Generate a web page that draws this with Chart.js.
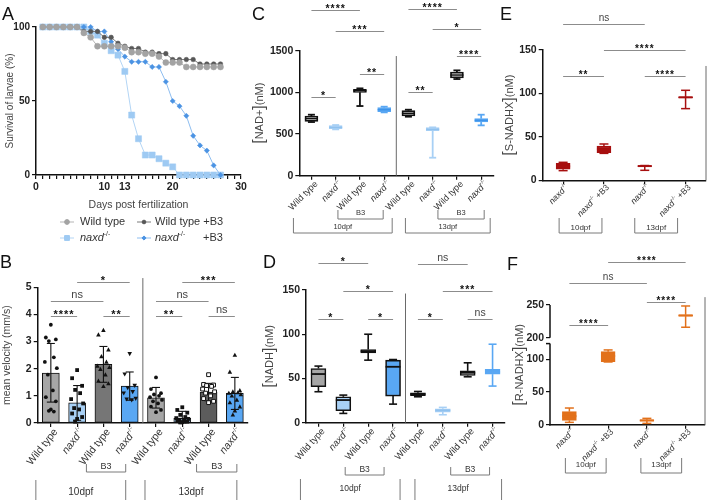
<!DOCTYPE html>
<html>
<head>
<meta charset="utf-8">
<title>naxd larvae survival, velocity and NAD metabolites</title>
<script src="https://cdn.jsdelivr.net/npm/chart.js@4.4.1/dist/chart.umd.min.js"></script>
<style>
  html, body { margin: 0; padding: 0; background: #fff; }
  body { width: 709px; height: 500px; position: relative; overflow: hidden; font-family: "Liberation Sans", Arial, sans-serif; }
  .pane { position: absolute; }
  .tag { position: absolute; font-size: 18px; line-height: 18px; color: #111; }
</style>
</head>
<body>
<div class="pane" style="left:0;top:0;width:290px;height:250px"><canvas id="chartA"></canvas></div>
<div class="pane" style="left:0;top:250px;width:290px;height:250px"><canvas id="chartB"></canvas></div>
<div class="pane" style="left:250px;top:0;width:260px;height:250px"><canvas id="chartC"></canvas></div>
<div class="pane" style="left:250px;top:250px;width:260px;height:250px"><canvas id="chartD"></canvas></div>
<div class="pane" style="left:495px;top:0;width:214px;height:250px"><canvas id="chartE"></canvas></div>
<div class="pane" style="left:495px;top:250px;width:214px;height:250px"><canvas id="chartF"></canvas></div>
<div class="tag" style="left:2px;top:5px">A</div>
<div class="tag" style="left:0px;top:253px">B</div>
<div class="tag" style="left:252px;top:5px">C</div>
<div class="tag" style="left:263px;top:253px">D</div>
<div class="tag" style="left:500px;top:5px">E</div>
<div class="tag" style="left:507px;top:255px">F</div>
<script>
// ---------- A: survival (%) per day ----------
var days = [1,2,3,4,5,6,7,8,9,10,11,12,13,14,15,16,17,18,19,20,21,22,23,24,25,26,27];
var dayTicks = [0, 10, 13, 20, 30];
var survWT     = [100,100,100,100,100,100,96,93,87,87,87,87,86,83,83,82,82,80,76,76,76,73,73,73,73,73,73];
var survWTB3   = [100,100,100,100,100,100,97,97,97,93,93,89,87,85.5,85.5,83,83,82,82,78,78,78,78,75,75,75,75];
var survNaxd   = [100,100,100,100,100,100,100,97,94.5,89,84,81,70,40.5,24.5,13.5,13.5,11,8,5.5,0,0,0,0,0,0,0];
var survNaxdB3 = [100,100,100,100,100,100,100,100,97,97,90,85,80,76.5,76.5,76.5,73,73,63,50,46.5,40,26.5,20,16.5,6.5,0];

// ---------- B: mean velocity (mm/s) ----------
var groups8 = ['Wild type','naxd-/-','Wild type','naxd-/-','Wild type','naxd-/-','Wild type','naxd-/-'];
var velMean = [1.84, 0.74, 2.16, 1.36, 0.93, 0.17, 1.14, 1.09];
var velHi   = [2.93, 1.38, 2.82, 1.88, 1.31, 0.43, 1.46, 1.68];
var velLo   = [0.77, 0.10, 1.50, 0.84, 0.55, 0.00, 0.82, 0.50];
var velPts = [
  [3.62, 3.15, 3.08, 3.02, 2.42, 2.25, 2.02, 1.78, 1.2, 0.95, 0.8, 0.5, 0.45, 0.42],
  [1.95, 1.65, 1.37, 1.22, 1.1, 0.88, 0.72, 0.55, 0.5, 0.35, 0.22, 0.15, 0.05],
  [3.42, 3.25, 2.7, 2.45, 2.25, 2.1, 2.05, 1.98, 1.78, 1.55, 1.45, 1.35],
  [2.55, 1.8, 1.38, 1.3, 1.15, 1.1, 0.9, 0.88, 0.85],
  [1.68, 1.25, 1.1, 1.05, 1.0, 0.95, 0.85, 0.8, 0.72, 0.6, 0.48, 0.4],
  [0.58, 0.48, 0.38, 0.3, 0.22, 0.18, 0.15, 0.12, 0.1, 0.08, 0.05, 0.03, 0.02],
  [1.78, 1.42, 1.4, 1.38, 1.35, 1.25, 1.15, 1.1, 1.0, 0.9, 0.8, 0.75],
  [2.5, 1.88, 1.2, 1.15, 1.12, 1.1, 1.05, 1.0, 0.85, 0.75, 0.6, 0.45, 0.3]
];
var velSig = [
  {a:0, b:1, y:3.95, t:'****'}, {a:0, b:2, y:4.51, t:'ns'}, {a:2, b:3, y:3.95, t:'**'}, {a:1, b:3, y:5.2, t:'*'},
  {a:4, b:5, y:3.95, t:'**'}, {a:4, b:6, y:4.51, t:'ns'}, {a:6, b:7, y:3.95, t:'ns'}, {a:5, b:7, y:5.2, t:'***'}
];

// ---------- C: NAD+ (nM) ----------
var nadMin = [644, 556, 836, 760, 708, 216, 1160, 604];
var nadQ1  = [652, 564, 1000, 768, 716, 540, 1172, 644];
var nadMed = [684, 580, 1020, 792, 748, 556, 1208, 664];
var nadQ3  = [716, 600, 1036, 816, 780, 576, 1244, 684];
var nadMax = [732, 608, 1048, 828, 792, 580, 1264, 732];
var nadSig = [
  {a:0, b:1, y:948, t:'*'}, {a:2, b:3, y:1220, t:'**'}, {a:1, b:3, y:1736, t:'***'}, {a:0, b:2, y:1988, t:'****'},
  {a:4, b:5, y:1008, t:'**'}, {a:6, b:7, y:1436, t:'****'}, {a:5, b:7, y:1756, t:'*'}, {a:4, b:6, y:2000, t:'****'}
];

// ---------- D: NADH (nM) ----------
var nadhMin = [35, 10.5, 70.7, 21, 29.3, 9, 51.9, 41.4];
var nadhQ1  = [40.6, 13.5, 78.9, 30.1, 30.5, 12, 53.4, 54.9];
var nadhMed = [55, 25.6, 80.8, 63.2, 32.3, 13.9, 56.4, 57.5];
var nadhQ3  = [61.3, 29.3, 82.7, 70.7, 33.8, 15.8, 58.6, 60.2];
var nadhMax = [64, 31.2, 100, 71.4, 35.3, 17.3, 67.7, 88.7];
var nadhSig = [
  {a:0, b:1, y:117.7, t:'*'}, {a:2, b:3, y:117.7, t:'*'}, {a:1, b:3, y:148.9, t:'*'}, {a:0, b:2, y:180.5, t:'*'},
  {a:4, b:5, y:117.7, t:'*'}, {a:6, b:7, y:117.7, t:'ns'}, {a:5, b:7, y:148.9, t:'***'}, {a:4, b:6, y:179.7, t:'ns'}
];

// ---------- E: S-NADHX (nM) ----------
var groups4 = ['naxd-/-', 'naxd-/- +B3', 'naxd-/-', 'naxd-/- +B3'];
var sMin = [11.1, 31, 11.5, 82.5];
var sQ1  = [12.7, 31.8, 16, 95];
var sMed = [16.1, 35.7, 16.4, 95.5];
var sQ3  = [19.6, 39.5, 16.8, 96];
var sMax = [20.7, 41.8, 17, 103.6];
var sSig = [{a:0, b:1, y:120, t:'**'}, {a:2, b:3, y:120, t:'****'}, {a:1, b:3, y:150, t:'****'}, {a:0, b:2, y:179.5, t:'ns'}];

// ---------- F: R-NADHX (nM) ----------
var rMin = [3.6, 95.9, 2, 216];
var rQ1  = [6.6, 96.4, 5.5, 233];
var rMed = [13, 105, 6.6, 234];
var rQ3  = [19.9, 111.7, 7.5, 235];
var rMax = [25.5, 114.3, 9.7, 248.5];
var rTicks = [0, 50, 100, 200, 250];
var rSig = [{a:0, b:1, y:220, t:'****'}, {a:2, b:3, y:254, t:'****'}, {a:0, b:2, y:284, t:'ns'}, {a:1, b:3, y:315, t:'****'}];

// ---------- look ----------
var FONT = '"Liberation Sans", Arial, sans-serif';
var gray1 = '#a6a6a6', gray2 = '#767676', gray3 = '#5c5c5c', lblue = '#a8d0f5', blue = '#59a7f3';
var dred = '#a70f0f', orange = '#e2711b', ink = '#111';
Chart.defaults.font.family = FONT;
Chart.defaults.color = '#333';

// y axis with a gap (used in F)
class BrokenScale extends Chart.LinearScale {
  _brk(v) {
    var lo = this.options.breakLow, hi = this.options.breakHigh, g = this.options.breakGap;
    if (v <= lo) return v;
    if (v >= hi) return v - (hi - lo) + g;
    return lo + (v - lo) / (hi - lo) * g;
  }
  getPixelForValue(v) {
    var a = this._brk(this.min), b = this._brk(this.max);
    return this.getPixelForDecimal((this._brk(v) - a) / (b - a));
  }
  getValueForPixel(p) {
    var lo = this.options.breakLow, hi = this.options.breakHigh, g = this.options.breakGap;
    var a = this._brk(this.min), b = this._brk(this.max);
    var d = a + this.getDecimalForPixel(p) * (b - a);
    if (d <= lo) return d;
    if (d >= lo + g) return d + (hi - lo) - g;
    return lo + (d - lo) / g * (hi - lo);
  }
}
BrokenScale.id = 'broken';
BrokenScale.defaults = {};
Chart.register(BrokenScale);

function partsFor(s, size) {
  var m = s.match(/^naxd-\/-(.*)$/);
  if (!m) return [{t: s, size: size}];
  var p = [{t: 'naxd', size: size, it: true}, {t: '-/-', size: size * 0.62, dy: -size * 0.38}];
  if (m[1]) p.push({t: m[1], size: size});
  return p;
}
function fontOf(p) {
  return (p.it ? 'italic ' : '') + (p.bold ? 'bold ' : '') + p.size + 'px ' + FONT;
}
function drawParts(ctx, parts, x, y, angle, align, color) {
  ctx.save();
  ctx.translate(x, y);
  ctx.rotate(angle || 0);
  ctx.textBaseline = 'middle';
  ctx.textAlign = 'left';
  ctx.fillStyle = color || '#333';
  var w = 0;
  parts.forEach(function (p) { ctx.font = fontOf(p); p.w = ctx.measureText(p.t).width; w += p.w; });
  var cx = align === 'right' ? -w : align === 'center' ? -w / 2 : 0;
  parts.forEach(function (p) { ctx.font = fontOf(p); ctx.fillText(p.t, cx, p.dy || 0); cx += p.w; });
  ctx.restore();
}
function seg(ctx, x1, y1, x2, y2) {
  ctx.beginPath(); ctx.moveTo(x1, y1); ctx.lineTo(x2, y2); ctx.stroke();
}
function marker(ctx, shape, x, y, r) {
  ctx.beginPath();
  if (shape === 'circle') ctx.arc(x, y, r, 0, 2 * Math.PI);
  else if (shape === 'square' || shape === 'open') ctx.rect(x - r, y - r, 2 * r, 2 * r);
  else if (shape === 'up') { ctx.moveTo(x, y - r * 1.3); ctx.lineTo(x + r * 1.2, y + r * 0.9); ctx.lineTo(x - r * 1.2, y + r * 0.9); ctx.closePath(); }
  else { ctx.moveTo(x, y + r * 1.3); ctx.lineTo(x + r * 1.2, y - r * 0.9); ctx.lineTo(x - r * 1.2, y - r * 0.9); ctx.closePath(); }
  if (shape === 'open') { ctx.fillStyle = '#fff'; ctx.fill(); ctx.strokeStyle = ink; ctx.lineWidth = 1; ctx.stroke(); }
  else { ctx.fillStyle = ink; ctx.fill(); }
}

// everything GraphPad draws on top of the bars/boxes
function makeDecor(cfg) {
  return {
    id: 'decor',
    afterDatasetsDraw: function (chart) {
      var ctx = chart.ctx, xs = chart.scales.x, ys = chart.scales.y;
      ctx.save();
      if (cfg.box) {
        var b = cfg.box;
        b.q1.forEach(function (q, i) {
          var cx = xs.getPixelForValue(i);
          ctx.strokeStyle = b.line[i];
          ctx.lineWidth = b.lw;
          seg(ctx, cx, ys.getPixelForValue(b.max[i]), cx, ys.getPixelForValue(b.q3[i]));
          seg(ctx, cx, ys.getPixelForValue(q), cx, ys.getPixelForValue(b.min[i]));
          seg(ctx, cx - b.capW / 2, ys.getPixelForValue(b.max[i]), cx + b.capW / 2, ys.getPixelForValue(b.max[i]));
          seg(ctx, cx - b.capW / 2, ys.getPixelForValue(b.min[i]), cx + b.capW / 2, ys.getPixelForValue(b.min[i]));
          ctx.strokeStyle = b.med[i];
          ctx.lineWidth = b.medW;
          seg(ctx, cx - b.boxW / 2, ys.getPixelForValue(b.mid[i]), cx + b.boxW / 2, ys.getPixelForValue(b.mid[i]));
        });
      }
      if (cfg.err) {
        ctx.strokeStyle = ink;
        ctx.lineWidth = 1.1;
        cfg.err.hi.forEach(function (h, i) {
          var cx = xs.getPixelForValue(i), yh = ys.getPixelForValue(h), yl = ys.getPixelForValue(cfg.err.lo[i]);
          seg(ctx, cx, yh, cx, yl);
          seg(ctx, cx - 4, yh, cx + 4, yh);
          seg(ctx, cx - 4, yl, cx + 4, yl);
        });
      }
      if (cfg.pts) {
        var jit = [0, -5, 5, -2, 3, -6, 6, -3, 2, -5, 5, 0, -2, 3];
        cfg.pts.vals.forEach(function (arr, i) {
          var cx = xs.getPixelForValue(i);
          arr.forEach(function (v, j) {
            marker(ctx, cfg.pts.shapes[i], cx + jit[j % jit.length], ys.getPixelForValue(v), 1.9);
          });
        });
      }
      ctx.restore();
    },
    afterDraw: function (chart) {
      var ctx = chart.ctx, xs = chart.scales.x, ys = chart.scales.y, ca = chart.chartArea;
      ctx.save();
      if (cfg.broken) {
        ctx.strokeStyle = ink;
        ctx.lineWidth = 1.5;
        var yb = ys.getPixelForValue(cfg.broken[0]);
        seg(ctx, ca.left, ys.getPixelForValue(0) + 0.75, ca.left, yb);
        seg(ctx, ca.left - 4, yb, ca.left, yb);
        seg(ctx, ca.left, ys.getPixelForValue(cfg.broken[1]), ca.left, ys.getPixelForValue(ys.max));
      }
      if (cfg.divider !== undefined) {
        var xd = (xs.getPixelForValue(3) + xs.getPixelForValue(4)) / 2;
        ctx.strokeStyle = '#6a6a6a';
        ctx.lineWidth = 1;
        seg(ctx, xd, ys.getPixelForValue(0), xd, ys.getPixelForValue(cfg.divider));
      }
      if (cfg.sig) {
        ctx.textAlign = 'center';
        ctx.textBaseline = 'alphabetic';
        cfg.sig.forEach(function (s) {
          var x1 = xs.getPixelForValue(s.a), x2 = xs.getPixelForValue(s.b);
          var py = Math.round(ys.getPixelForValue(s.y)) + 0.5;
          ctx.strokeStyle = '#8c8c8c';
          ctx.lineWidth = 1;
          seg(ctx, x1, py, x2, py);
          var ns = s.t === 'ns';
          ctx.font = (ns ? '' : 'bold ') + cfg.sigSize + 'px ' + FONT;
          ctx.letterSpacing = ns ? '0px' : '1px';
          ctx.fillStyle = ns ? '#444' : ink;
          ctx.fillText(s.t, (x1 + x2) / 2, ns ? py - 4 : py + cfg.sigSize * 0.15);
        });
        ctx.letterSpacing = '0px';
      }
      if (cfg.labels) {
        cfg.labels.forEach(function (s, i) {
          drawParts(ctx, partsFor(s, cfg.labelSize), xs.getPixelForValue(i) + cfg.labelDx, ca.bottom + cfg.labelDy,
            -cfg.labelAngle * Math.PI / 180, 'right', '#333');
        });
      }
      if (cfg.brackets) {
        cfg.brackets.forEach(function (b) {
          var xl = xs.getPixelForValue(b.a) + b.ao, xr = xs.getPixelForValue(b.b) + b.bo;
          ctx.strokeStyle = '#7a7a7a';
          ctx.lineWidth = 1;
          ctx.beginPath();
          ctx.moveTo(xl, b.top); ctx.lineTo(xl, b.bot);
          if (b.closed) ctx.lineTo(xr, b.bot); else ctx.moveTo(xr, b.bot);
          ctx.lineTo(xr, b.top);
          ctx.stroke();
          drawParts(ctx, [{t: b.text, size: b.size}], (xl + xr) / 2, b.ty, 0, 'center', '#333');
        });
      }
      if (cfg.ytitle) {
        var n = cfg.ytitle;
        drawParts(ctx, [{t: '[', size: 16}, {t: n, size: 11}, {t: ']', size: 16}, {t: '(nM)', size: 11}],
          cfg.ytitleX, (ca.top + ca.bottom) / 2, -Math.PI / 2, 'center', '#444');
      }
      if (cfg.legend) {
        cfg.legend.forEach(function (it) {
          var ds = chart.data.datasets[it.ds];
          ctx.strokeStyle = ds.borderColor;
          ctx.lineWidth = 1;
          seg(ctx, it.x, it.y, it.x + 14, it.y);
          ctx.fillStyle = ds.pointBackgroundColor;
          ctx.strokeStyle = ds.pointBackgroundColor;
          Chart.helpers.drawPoint(ctx, {pointStyle: ds.pointStyle, radius: ds.pointRadius * 0.8, rotation: 0, borderWidth: 0.5}, it.x + 7, it.y);
          drawParts(ctx, partsFor(it.text, 11), it.tx, it.y, 0, 'left', '#333');
          if (it.extra) drawParts(ctx, [{t: it.extra, size: 11}], it.ex, it.y, 0, 'left', '#333');
        });
      }
      ctx.restore();
    }
  };
}

function baseOptions(padTop, padRight, scales) {
  return {
    responsive: true, maintainAspectRatio: false, animation: false, events: [],
    layout: {padding: {top: padTop, right: padRight, left: 0, bottom: 0}},
    plugins: {legend: {display: false}, tooltip: {enabled: false}},
    scales: scales
  };
}
function yAxis(min, max, step, width, extra) {
  var o = {
    min: min, max: max,
    ticks: {stepSize: step, color: '#222', font: {size: 10.5, weight: 'bold'}, padding: 2,
      callback: function (v) { return String(v); }},
    grid: {drawOnChartArea: false, tickLength: 4, color: ink, lineWidth: 1.2},
    border: {display: true, color: ink, width: 1.5},
    afterFit: function (s) { s.width = width; }
  };
  return Object.assign(o, extra || {});
}
function xCat(height) {
  return {
    type: 'category', offset: true,
    ticks: {display: false},
    grid: {drawOnChartArea: false, offset: false, tickLength: 4, color: ink, lineWidth: 1.2},
    border: {display: true, color: ink, width: 1.5},
    afterFit: function (s) { s.height = height; }
  };
}

// ---------- A ----------
var survSeries = [
  {vals: survWT,     point: '#a3a3a3', line: '#b5b5b5', style: 'circle',  r: 3,   order: 0},
  {vals: survWTB3,   point: '#575757', line: '#7a7a7a', style: 'circle',  r: 2.3, order: 1},
  {vals: survNaxd,   point: '#9ecaf3', line: '#b3d5f5', style: 'rect',    r: 4.3, order: 3},
  {vals: survNaxdB3, point: '#4b93e3', line: '#8dbdf0', style: 'rectRot', r: 2.6, order: 2}
];
new Chart(document.getElementById('chartA'), {
  type: 'line',
  data: {
    datasets: survSeries.map(function (s) {
      return {
        data: days.map(function (d, i) { return {x: d, y: s.vals[i]}; }),
        borderColor: s.line, backgroundColor: s.point,
        pointBackgroundColor: s.point, pointBorderColor: s.point,
        pointStyle: s.style, pointRadius: s.r, pointBorderWidth: 0.5,
        borderWidth: 1, order: s.order, clip: false, tension: 0
      };
    })
  },
  options: baseOptions(27, 49, {
    x: {
      type: 'linear', min: 0, max: 30,
      afterBuildTicks: function (s) { var t = []; for (var v = 0; v <= 30; v++) t.push({value: v}); s.ticks = t; },
      ticks: {autoSkip: false, maxRotation: 0, minRotation: 0, color: '#222', font: {size: 10.5, weight: 'bold'}, padding: 2,
        callback: function (v) { return dayTicks.indexOf(v) >= 0 ? String(v) : ''; }},
      grid: {drawOnChartArea: false, tickLength: 4, color: ink, lineWidth: 1.2},
      border: {display: true, color: ink, width: 1.5},
      title: {display: true, text: 'Days post fertilization', color: '#444', font: {size: 10.5}, padding: {top: 0, bottom: 39}},
      afterFit: function (s) { s.height = 75; }
    },
    y: yAxis(0, 100, 50, 36, {
      ticks: {stepSize: 50, color: '#222', font: {size: 10, weight: 'bold'}, padding: 2},
      title: {display: true, text: 'Survival of larvae (%)', color: '#444', font: {size: 10}, padding: {top: 4, bottom: 0}}
    })
  }),
  plugins: [makeDecor({legend: [
    {ds: 0, x: 60, y: 222, tx: 80, text: 'Wild type'},
    {ds: 1, x: 137, y: 222, tx: 155, text: 'Wild type +B3'},
    {ds: 2, x: 60, y: 238, tx: 80, text: 'naxd-/-'},
    {ds: 3, x: 137, y: 238, tx: 155, text: 'naxd-/-', extra: '+B3', ex: 203}
  ]})]
});

// ---------- B ----------
new Chart(document.getElementById('chartB'), {
  type: 'bar',
  data: {labels: groups8, datasets: [{
    data: velMean,
    backgroundColor: [gray1, lblue, gray2, blue, gray1, lblue, gray3, blue],
    borderColor: ink, borderWidth: 1, borderSkipped: false, barThickness: 17
  }]},
  options: baseOptions(37.3, 42, {
    x: xCat(77),
    y: yAxis(0, 5, 1, 37.7, {
      title: {display: true, text: 'mean velocity (mm/s)', color: '#444', font: {size: 10.5}, padding: {top: 1, bottom: 0}}
    })
  }),
  plugins: [makeDecor({
    err: {hi: velHi, lo: velLo},
    pts: {vals: velPts, shapes: ['circle', 'square', 'up', 'down', 'circle', 'square', 'open', 'up']},
    divider: 5.34, sig: velSig, sigSize: 11,
    labels: groups8, labelSize: 10.5, labelAngle: 52, labelDx: 5, labelDy: 7,
    brackets: [
      {a: 2, ao: -17, b: 3, bo: -4, top: 214, bot: 222, ty: 217, text: 'B3', size: 9, closed: true},
      {a: 0, ao: -15, b: 3, bo: -4, top: 230, bot: 251, ty: 242, text: '10dpf', size: 10, closed: false},
      {a: 6, ao: -12, b: 7, bo: 2, top: 214, bot: 222, ty: 217, text: 'B3', size: 9, closed: true},
      {a: 4, ao: -11, b: 7, bo: 2, top: 230, bot: 251, ty: 242, text: '13dpf', size: 10, closed: false}
    ]
  })]
});

// ---------- box panels ----------
function boxChart(id, cats, st, yopt, padTop, padRight, xh, cfg) {
  cfg.box = {min: st.min, q1: st.q1, mid: st.mid, q3: st.q3, max: st.max, line: st.line, med: st.med,
    lw: st.lw, medW: st.medW, capW: st.capW, boxW: st.boxW};
  return new Chart(document.getElementById(id), {
    type: 'bar',
    data: {labels: cats, datasets: [{
      data: st.q1.map(function (q, i) { return [q, st.q3[i]]; }),
      backgroundColor: st.fill, borderColor: st.border, borderWidth: st.lw,
      borderSkipped: false, barThickness: st.boxW
    }]},
    options: baseOptions(padTop, padRight, {x: xCat(xh), y: yopt}),
    plugins: [makeDecor(cfg)]
  });
}
var clear = 'rgba(0,0,0,0)';

boxChart('chartC', groups8, {
  min: nadMin, q1: nadQ1, mid: nadMed, q3: nadQ3, max: nadMax,
  fill:   ['#fff', lblue, '#fff', blue, '#fff', lblue, '#fff', blue],
  border: [ink, lblue, ink, blue, ink, lblue, ink, blue],
  line:   [ink, lblue, ink, blue, ink, lblue, ink, blue],
  med:    [ink, '#8fc1ee', ink, '#3d93ea', ink, '#8fc1ee', ink, '#3d93ea'],
  lw: 1.8, medW: 1.5, capW: 7, boxW: 13
}, yAxis(0, 1500, 500, 49.3), 50.7, 16.7, 74.3, {
  divider: 1436, sig: nadSig, sigSize: 10.5, ytitle: 'NAD+', ytitleX: 10,
  labels: groups8, labelSize: 9, labelAngle: 45, labelDx: 5, labelDy: 7,
  brackets: [
    {a: 2, ao: -22, b: 3, bo: -1, top: 210, bot: 219, ty: 213, text: 'B3', size: 7.5, closed: true},
    {a: 0, ao: -18, b: 3, bo: 8, top: 218, bot: 233, ty: 227, text: '10dpf', size: 7.5, closed: true},
    {a: 6, ao: -19, b: 7, bo: 3, top: 210, bot: 219, ty: 213, text: 'B3', size: 7.5, closed: true},
    {a: 4, ao: -3, b: 7, bo: 9, top: 218, bot: 233, ty: 227, text: '13dpf', size: 7.5, closed: true}
  ]
});

boxChart('chartD', groups8, {
  min: nadhMin, q1: nadhQ1, mid: nadhMed, q3: nadhQ3, max: nadhMax,
  fill:   [gray1, lblue, '#fff', blue, '#fff', lblue, '#fff', blue],
  border: [ink, ink, ink, ink, ink, lblue, ink, blue],
  line:   [ink, ink, ink, ink, ink, lblue, ink, blue],
  med:    [ink, ink, ink, ink, ink, '#8fc1ee', ink, blue],
  lw: 1.6, medW: 1.8, capW: 8, boxW: 15
}, yAxis(0, 150, 50, 56), 40, 5, 77.3, {
  divider: 146, sig: nadhSig, sigSize: 10.5, ytitle: 'NADH', ytitleX: 20,
  labels: groups8, labelSize: 9.5, labelAngle: 48, labelDx: 5, labelDy: 7,
  brackets: [
    {a: 2, ao: -23, b: 3, bo: -9, top: 217, bot: 225, ty: 220, text: 'B3', size: 8.5, closed: true},
    {a: 0, ao: -18, b: 3, bo: 7, top: 229, bot: 251, ty: 239, text: '10dpf', size: 8.5, closed: false},
    {a: 6, ao: -17, b: 7, bo: -3, top: 217, bot: 225, ty: 220, text: 'B3', size: 8.5, closed: true},
    {a: 4, ao: -3, b: 7, bo: 9, top: 229, bot: 251, ty: 239, text: '13dpf', size: 8.5, closed: false}
  ]
});

boxChart('chartE', groups4, {
  min: sMin, q1: sQ1, mid: sMed, q3: sQ3, max: sMax,
  fill: [dred, dred, clear, clear], border: dred, line: [dred, dred, dred, dred], med: [dred, dred, dred, dred],
  lw: 1.5, medW: 2, capW: 9, boxW: 14
}, yAxis(0, 150, 50, 47.7), 50, 3, 69.7, {
  divider: 131.6, sig: sSig, sigSize: 10, ytitle: 'S-NADHX', ytitleX: 15,
  labels: groups4, labelSize: 8.5, labelAngle: 45, labelDx: 4, labelDy: 6,
  brackets: [
    {a: 0, ao: -4, b: 1, bo: -2, top: 218, bot: 233, ty: 228, text: '10dpf', size: 8, closed: true},
    {a: 2, ao: -10, b: 3, bo: -8, top: 218, bot: 233, ty: 228, text: '13dpf', size: 8, closed: true}
  ]
});

boxChart('chartF', groups4, {
  min: rMin, q1: rQ1, mid: rMed, q3: rQ3, max: rMax,
  fill: [orange, orange, clear, clear], border: orange, line: [orange, orange, orange, orange], med: [orange, orange, orange, orange],
  lw: 1.5, medW: 2, capW: 9, boxW: 14
}, yAxis(0, 250, 50, 55, {
  type: 'broken', breakLow: 124, breakHigh: 200, breakGap: 9,
  afterBuildTicks: function (s) { s.ticks = rTicks.map(function (v) { return {value: v}; }); },
  ticks: {color: '#222', font: {size: 10.5, weight: 'bold'}, padding: 2, callback: function (v) { return String(v); }},
  border: {display: false}
}), 55, 4, 75.3, {
  broken: [124, 200], divider: 262, sig: rSig, sigSize: 10, ytitle: 'R-NADHX', ytitleX: 25,
  labels: groups4, labelSize: 8.5, labelAngle: 45, labelDx: 4, labelDy: 6,
  brackets: [
    {a: 0, ao: -4, b: 1, bo: -2, top: 208, bot: 223, ty: 215, text: '10dpf', size: 8, closed: true},
    {a: 2, ao: -6, b: 3, bo: -4, top: 208, bot: 223, ty: 215, text: '13dpf', size: 8, closed: true}
  ]
});
</script>
</body>
</html>
